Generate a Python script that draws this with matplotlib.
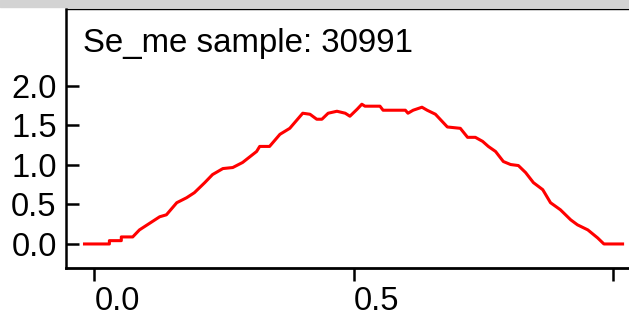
import matplotlib
matplotlib.use("Agg")
import matplotlib.pyplot as plt
from matplotlib.patches import Rectangle

# values
x_vals = [-0.019, 0.029, 0.029, 0.052, 0.052, 0.074, 0.087, 0.126, 0.139, 0.159,
          0.178, 0.193, 0.213, 0.228, 0.248, 0.267, 0.286, 0.313, 0.319, 0.338,
          0.358, 0.377, 0.402, 0.416, 0.429, 0.439, 0.451, 0.468, 0.484, 0.493,
          0.507, 0.516, 0.522, 0.551, 0.557, 0.600, 0.605, 0.615, 0.632, 0.642,
          0.658, 0.681, 0.706, 0.720, 0.735, 0.749, 0.760, 0.774, 0.789, 0.803,
          0.818, 0.832, 0.847, 0.865, 0.880, 0.899, 0.919, 0.932, 0.952, 0.971,
          0.983, 1.019]
y_vals = [0.0, 0.0, 0.042, 0.042, 0.089, 0.089, 0.178, 0.344, 0.369, 0.522,
          0.585, 0.649, 0.776, 0.878, 0.954, 0.967, 1.031, 1.170, 1.234, 1.234,
          1.387, 1.463, 1.654, 1.641, 1.578, 1.578, 1.654, 1.679, 1.654, 1.616,
          1.705, 1.768, 1.743, 1.743, 1.692, 1.692, 1.654, 1.692, 1.730, 1.692,
          1.641, 1.480, 1.463, 1.349, 1.349, 1.298, 1.234, 1.170, 1.043, 1.005,
          0.992, 0.903, 0.776, 0.687, 0.522, 0.433, 0.305, 0.242, 0.178, 0.076,
          0.0, 0.0]

title = "Se_me sample: 30991"
x_ticks = [0.0, 0.5, 1.0]
x_ticklabels = ["0.0", "0.5", ""]  # the 1.0 label is not shown in the picture
y_ticks = [0.0, 0.5, 1.0, 1.5, 2.0]
y_ticklabels = ["0.0", "0.5", "1.0", "1.5", "2.0"]

plt.rcParams["font.family"] = ["Liberation Sans", "DejaVu Sans"]

fig = plt.figure(figsize=(6.29, 3.2), dpi=100)
# grey strip along the top edge
fig.patches.append(Rectangle((0, 0.978), 1, 0.022, transform=fig.transFigure,
                             color="#d3d3d3", zorder=0))

ax = fig.add_axes([0.105, 0.1625, 0.895, 0.81])
ax.plot(x_vals, y_vals, color="#ff0000", lw=2.2)

ax.set_xlim(-0.0546, 1.0314)
ax.set_ylim(-0.304, 2.975)
ax.set_xticks(x_ticks)
ax.set_xticklabels(x_ticklabels, ha="left")
ax.set_yticks(y_ticks)
ax.set_yticklabels(y_ticklabels)

ax.spines["right"].set_visible(False)
ax.spines["left"].set_linewidth(1.8)
ax.spines["bottom"].set_linewidth(2.0)
ax.spines["top"].set_linewidth(1.0)
ax.tick_params(axis="y", direction="in", length=9, width=1.8, pad=6.7, labelsize=23.5)
ax.tick_params(axis="x", direction="out", length=9, width=1.8, pad=3.6, labelsize=23.5)

ax.text(0.030, 0.834, title, transform=ax.transAxes, fontsize=23.8,
        ha="left", va="baseline")

fig.savefig("out.png", dpi=100)
